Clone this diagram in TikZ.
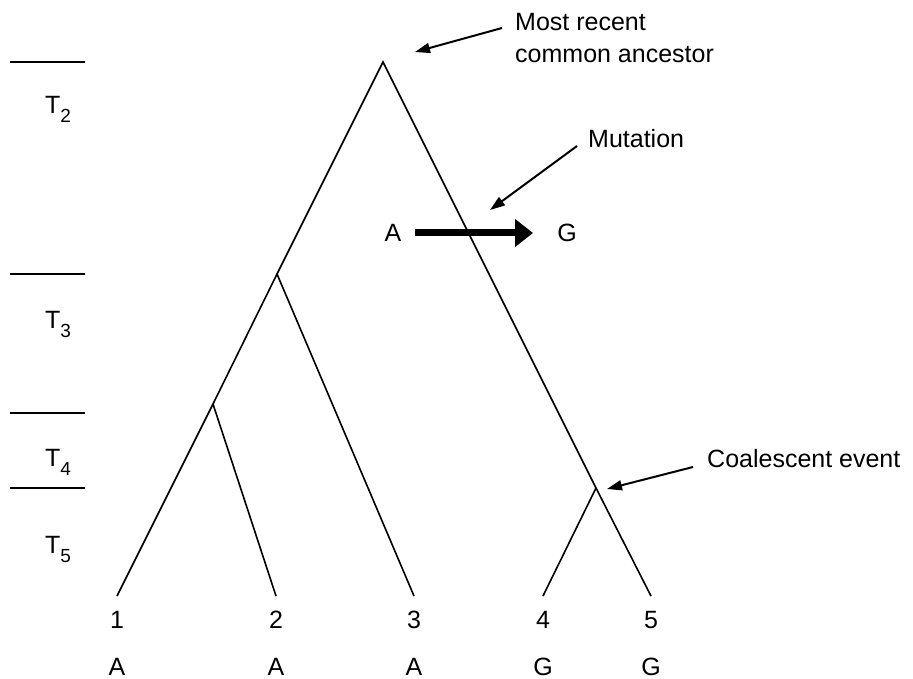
\documentclass[tikz,border=0pt]{standalone}
\usepackage{fontspec}
\setmainfont{Liberation Sans}
\usetikzlibrary{arrows.meta}
\begin{document}
\begin{tikzpicture}[x=1pt,y=-1pt,
  branch/.style={line width=1.6pt, line join=miter},
  timeline/.style={line width=2pt},
  lbl/.style={inner sep=0pt, font=\fontsize{25}{30}\selectfont},
  pointer/.style={line width=2pt, -{Triangle[length=15pt,width=10pt]}},
  bigarrow/.style={line width=7pt, -{Triangle[length=18pt,width=27pt]}}]
\useasboundingbox (0,0) rectangle (913,679);

% time lines
\draw[timeline] (10,62) -- (85,62);
\draw[timeline] (10,274) -- (85,274);
\draw[timeline] (10,413) -- (85,413);
\draw[timeline] (10,488) -- (85,488);

% time labels
\node[lbl, anchor=base west] (t2) at (45,114) {T\raisebox{-9pt}{\fontsize{19}{19}\selectfont 2}};
\node[lbl, anchor=base west] (t3) at (45,328) {T\raisebox{-9pt}{\fontsize{19}{19}\selectfont 3}};
\node[lbl, anchor=base west] (t4) at (45,466) {T\raisebox{-9pt}{\fontsize{19}{19}\selectfont 4}};
\node[lbl, anchor=base west] (t5) at (45,553) {T\raisebox{-9pt}{\fontsize{19}{19}\selectfont 5}};

% tree junctions
\coordinate (root) at (383,62);
\coordinate (n3) at (277,274);
\coordinate (n4) at (213,404);
\coordinate (c45) at (596,488);
\coordinate (L1) at (117,596);
\coordinate (L2) at (276,596);
\coordinate (L3) at (414,596);
\coordinate (L4) at (543,596);
\coordinate (L5) at (651,596);

\draw[branch] (L1) -- (n4) -- (n3) -- (root) -- (c45) -- (L5);
\draw[branch] (n4) -- (L2);
\draw[branch] (n3) -- (L3);
\draw[branch] (c45) -- (L4);

% leaf labels
\node[lbl, anchor=base] (num1) at (117,628) {1};
\node[lbl, anchor=base] (num2) at (276,628) {2};
\node[lbl, anchor=base] (num3) at (414,628) {3};
\node[lbl, anchor=base] (num4) at (543,628) {4};
\node[lbl, anchor=base] (num5) at (651,628) {5};
\node[lbl, anchor=base] (al1) at (117,675) {A};
\node[lbl, anchor=base] (al2) at (276,675) {A};
\node[lbl, anchor=base] (al3) at (414,675) {A};
\node[lbl, anchor=base] (al4) at (543,675) {G};
\node[lbl, anchor=base] (al5) at (651,675) {G};

% mutation
\node[lbl, anchor=base] (mA) at (393,242) {A};
\node[lbl, anchor=base] (mG) at (567,242) {G};
\coordinate (mutS) at (415,233);
\coordinate (mutE) at (533,233);
\draw[bigarrow] (mutS) -- (mutE);

% annotations
\node[lbl, anchor=base west] (mrca1) at (515,31) {Most recent};
\node[lbl, anchor=base west] (mrca2) at (515,63) {common ancestor};
\coordinate (mrcaTail) at (502,28);
\coordinate (mrcaTip) at (415,52);
\draw[pointer] (mrcaTail) -- (mrcaTip);

\node[lbl, anchor=base west] (mut) at (588,148) {Mutation};
\coordinate (mutTail) at (577,146);
\coordinate (mutTip) at (490,210);
\draw[pointer] (mutTail) -- (mutTip);

\node[lbl, anchor=base west] (coal) at (707,467) {Coalescent event};
\coordinate (coalTail) at (693,467);
\coordinate (coalTip) at (607,489);
\draw[pointer] (coalTail) -- (coalTip);
\end{tikzpicture}
\end{document}
